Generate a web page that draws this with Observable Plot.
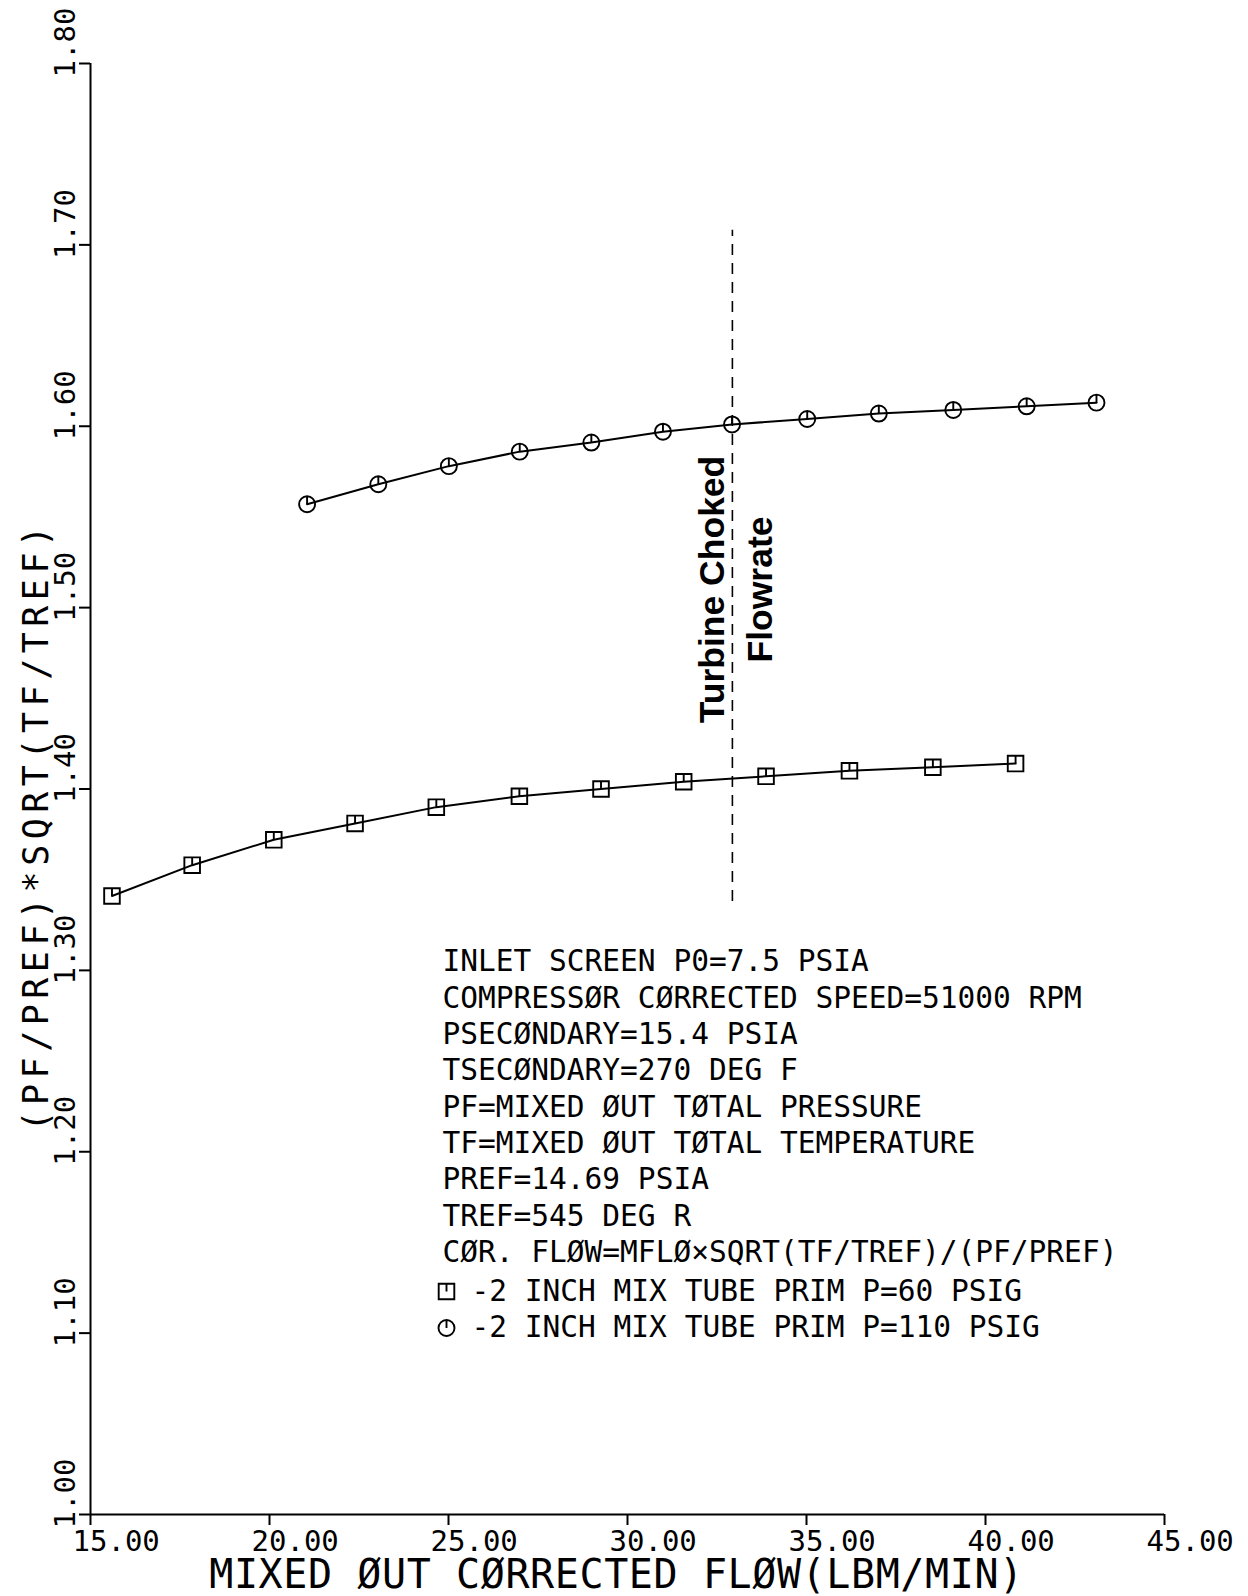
<!DOCTYPE html>
<html>
<head>
<meta charset="utf-8">
<script src="https://cdn.jsdelivr.net/npm/d3@7"></script>
<script src="https://cdn.jsdelivr.net/npm/@observablehq/plot@0.6"></script>
<style>
html, body { margin: 0; padding: 0; background: #fff; }
#chart svg { display: block; }
</style>
</head>
<body>
<div id="chart"></div>
<script>
// ---- data ----
const xTicks = [15, 20, 25, 30, 35, 40, 45];
const yTicks = [1.0, 1.1, 1.2, 1.3, 1.4, 1.5, 1.6, 1.7, 1.8];

const seriesNames = [
  "-2 INCH MIX TUBE PRIM P=60 PSIG",
  "-2 INCH MIX TUBE PRIM P=110 PSIG"
];
const flow60 = [15.60, 17.84, 20.12, 22.39, 24.66, 26.98, 29.26, 31.57, 33.87, 36.20, 38.53, 40.84];
const ratio60 = [1.341, 1.358, 1.372, 1.381, 1.390, 1.396, 1.400, 1.404, 1.407, 1.410, 1.412, 1.414];
const flow110 = [21.05, 23.04, 25.01, 26.99, 28.99, 30.99, 32.92, 35.02, 37.02, 39.10, 41.15, 43.10];
const ratio110 = [1.557, 1.568, 1.578, 1.586, 1.591, 1.597, 1.601, 1.604, 1.607, 1.609, 1.611, 1.613];

const chokedFlow = 32.93;
const chokedSpan = [1.338, 1.708];
const chokedLabel = "Turbine Choked\nFlowrate";

const noteLines = [
  "INLET SCREEN P0=7.5 PSIA",
  "COMPRESSØR CØRRECTED SPEED=51000 RPM",
  "PSECØNDARY=15.4 PSIA",
  "TSECØNDARY=270 DEG F",
  "PF=MIXED ØUT TØTAL PRESSURE",
  "TF=MIXED ØUT TØTAL TEMPERATURE",
  "PREF=14.69 PSIA",
  "TREF=545 DEG R",
  "CØR. FLØW=MFLØ×SQRT(TF/TREF)/(PF/PREF)"
];
const xLabel = "MIXED ØUT CØRRECTED FLØW(LBM/MIN)";
const yLabel = "(PF/PREF)*SQRT(TF/TREF)";

// ---- plotter-style symbols ----
const squareTick = {
  draw(ctx, size) {
    const s = Math.sqrt(size / Math.PI);
    ctx.moveTo(-s, -s); ctx.lineTo(s, -s); ctx.lineTo(s, s); ctx.lineTo(-s, s); ctx.closePath();
    ctx.moveTo(0, -s); ctx.lineTo(0, 0);
  }
};
const circleTick = {
  draw(ctx, size) {
    const r = Math.sqrt(size / Math.PI);
    ctx.moveTo(r, 0); ctx.arc(0, 0, r, 0, 2 * Math.PI);
    ctx.moveTo(0, -r); ctx.lineTo(0, 0);
  }
};
const symbols = [squareTick, circleTick];
const symbolR = [7.8, 8];

const s60 = flow60.map((x, i) => ({series: seriesNames[0], x, y: ratio60[i]}));
const s110 = flow110.map((x, i) => ({series: seriesNames[1], x, y: ratio110[i]}));
const allPts = s60.concat(s110);

const mono = "DejaVu Sans Mono, Liberation Mono, monospace";
const fmt = d3.format(".2f");

const legendMarks = seriesNames.flatMap((name, i) => [
  Plot.dot([name], {frameAnchor: "top-left", dx: 356, dy: 1228 + i * 36.5,
    symbol: symbols[i], r: symbolR[i], stroke: "black", fill: "none", strokeWidth: 1.9}),
  Plot.text([name], {text: d => d, frameAnchor: "top-left", dx: 381, dy: 1228 + i * 36.5,
    textAnchor: "start", lineAnchor: "middle", fontSize: 29.5, fontFamily: mono, fill: "black"})
]);

const chart = Plot.plot({
  width: 1248,
  height: 1596,
  marginLeft: 90,
  marginRight: 84,
  marginTop: 63,
  marginBottom: 82,
  x: {domain: [15, 45]},
  y: {domain: [1.0, 1.8]},
  style: {fontFamily: mono, background: "white", color: "black", fontSize: "29px"},
  marks: [
    Plot.ruleY([1.0], {stroke: "black", strokeWidth: 2}),
    Plot.ruleX([15], {stroke: "black", strokeWidth: 2}),
    // tick marks
    Plot.axisX(xTicks, {anchor: "bottom", tickSize: 11, fill: "none", label: null, strokeWidth: 2}),
    Plot.axisY(yTicks, {anchor: "left", tickSize: 11, fill: "none", label: null, strokeWidth: 2}),
    // tick labels
    Plot.axisX(xTicks, {anchor: "bottom", tickSize: 0, tickPadding: 16, tickFormat: fmt,
      textAnchor: "start", dx: -18, fontSize: 29, fontFamily: mono, label: null}),
    Plot.axisY(yTicks, {anchor: "left", tickSize: 0, tickPadding: 16, tickRotate: -90,
      textAnchor: "start", lineAnchor: "bottom", dy: 14, tickFormat: fmt,
      fontSize: 29, fontFamily: mono, label: null}),
    Plot.ruleX([chokedFlow], {y1: chokedSpan[0], y2: chokedSpan[1], stroke: "black",
      strokeWidth: 1.6, strokeDasharray: "11,8"}),
    Plot.line(allPts, {x: "x", y: "y", z: "series", stroke: "black", strokeWidth: 2}),
    Plot.dot(s60, {x: "x", y: "y", symbol: squareTick, r: symbolR[0], stroke: "black", fill: "none", strokeWidth: 1.9}),
    Plot.dot(s110, {x: "x", y: "y", symbol: circleTick, r: symbolR[1], stroke: "black", fill: "none", strokeWidth: 1.9}),
    Plot.text([chokedLabel], {text: d => d, x: () => chokedFlow, y: () => 1.510, rotate: -90,
      textAnchor: "middle", lineAnchor: "middle", lineHeight: 1.36, dx: 0,
      fontSize: 35.5, fontWeight: "bold", fontFamily: "Liberation Sans, Arial, sans-serif", fill: "black"}),
    Plot.text([noteLines.join("\n")], {text: d => d, frameAnchor: "top-left", dx: 352, dy: 882,
      textAnchor: "start", lineAnchor: "top", lineHeight: 1.232, fontSize: 29.5, fontFamily: mono, fill: "black"}),
    ...legendMarks,
    Plot.text([xLabel], {text: d => d, frameAnchor: "bottom", dx: -11, dy: 73, lineAnchor: "bottom",
      textAnchor: "middle", fontSize: 40, fontFamily: mono, fill: "black"}),
    Plot.text([yLabel], {text: d => d, frameAnchor: "left", dx: -43, dy: 37, rotate: -90,
      lineAnchor: "bottom", textAnchor: "middle", fontSize: 35, fontFamily: mono, fill: "black"})
  ]
});

chart.querySelectorAll("text").forEach(t => {
  if (t.textContent === yLabel) t.style.letterSpacing = "5.5px";
  if (t.textContent === xLabel) t.style.letterSpacing = "0.6px";
});
document.getElementById("chart").appendChild(chart);
</script>
</body>
</html>
